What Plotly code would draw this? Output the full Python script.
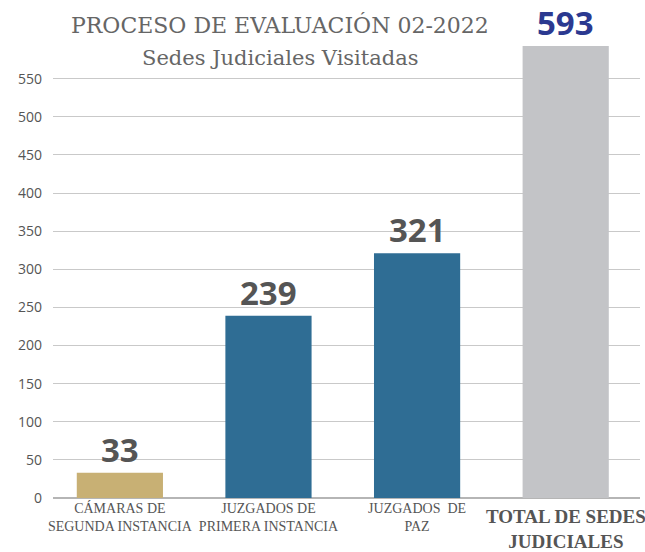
import plotly.graph_objects as go

# datos
categorias = ["CÁMARAS DE<br>SEGUNDA INSTANCIA", "JUZGADOS DE<br>PRIMERA INSTANCIA",
              "JUZGADOS  DE<br>PAZ", "TOTAL DE SEDES<br>JUDICIALES"]
valores = [33, 239, 321, 593]
colores = ["#c8b074", "#2f6d94", "#2f6d94", "#c3c4c7"]
color_etiqueta = ["#555555", "#555555", "#555555", "#2b3990"]
y_ticks = [0, 50, 100, 150, 200, 250, 300, 350, 400, 450, 500, 550]

x = list(range(len(categorias)))
# la ultima categoria va aparte, con letra mas grande
ticktext = categorias[:3] + [""]

fig = go.Figure(go.Bar(
    x=x, y=valores, width=0.58,
    marker=dict(color=colores, line=dict(width=0)),
    hoverinfo="none"))

# numeros sobre las barras
for xi, v, c in zip(x, valores, color_etiqueta):
    fig.add_annotation(x=xi, y=v, text="<b>%d</b>" % v, showarrow=False,
                       yanchor="bottom", yshift=-1,
                       font=dict(family="Open Sans", size=33, color=c))

fig.add_annotation(x=x[3], yref="paper", y=0, yanchor="top", yshift=-6,
                   text="<b>%s</b>" % categorias[3], showarrow=False,
                   font=dict(family="Liberation Serif", size=19, color="#555555"))

# titulo
fig.add_annotation(xref="paper", yref="paper", x=0.387, y=1.017, yanchor="middle",
                   text="PROCESO DE EVALUACIÓN 02-2022", showarrow=False,
                   font=dict(family="DejaVu Serif", size=22, color="#666666"))
fig.add_annotation(xref="paper", yref="paper", x=0.387, y=0.946, yanchor="middle",
                   text="Sedes Judiciales Visitadas", showarrow=False,
                   font=dict(family="DejaVu Serif", size=21, color="#666666"))

fig.update_layout(
    width=645, height=552,
    margin=dict(l=53, r=5, t=33, b=54, autoexpand=False),
    paper_bgcolor="white", plot_bgcolor="white",
    showlegend=False,
    xaxis=dict(range=[-0.45, 3.5], tickvals=x, ticktext=ticktext, automargin=False,
               tickfont=dict(family="Liberation Serif", size=14, color="#555555"),
               showgrid=False, zeroline=False, showline=False, ticks=""),
    yaxis=dict(range=[0, 610], tickvals=y_ticks, automargin=False,
               tickfont=dict(family="Open Sans", size=14, color="#555555"),
               showgrid=True, gridcolor="#c9c9c9", gridwidth=1,
               zeroline=True, zerolinecolor="#b5b5b5", zerolinewidth=1.5,
               ticklabelstandoff=10),
)

# quitar el margen del body para que la figura llene la ventana
fig.write_html("out.html", config={"displayModeBar": False},
               post_script="document.body.style.margin='0';")
